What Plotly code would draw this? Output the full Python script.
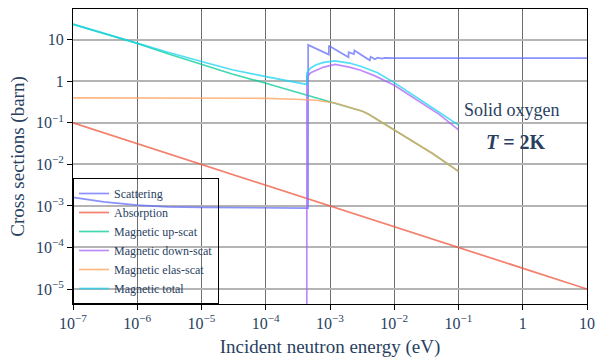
import plotly.graph_objects as go

# ---------------- data ----------------
E_abs = [1e-7, 10]
abs_xs = [0.1, 1e-5]

E_scat = [1e-7, 3e-7, 1e-6, 3e-6, 1e-5, 1e-4, 4.55e-4,
          4.57e-4, 9.6e-4, 9.62e-4, 1.94e-3, 1.95e-3, 2.35e-3, 2.4e-3, 4.16e-3,
          4.3e-3, 5e-3, 5.5e-3, 6.5e-3, 7e-3, 9e-3, 1e-2, 1e-1, 1, 10]
scat_xs = [1.6e-3, 1.25e-3, 1.05e-3, 9.5e-4, 9.2e-4, 9.0e-4, 8.9e-4,
           7.5, 4.4, 7.2, 3.8, 5.0, 4.5, 5.5, 3.2,
           3.9, 3.4, 3.7, 3.5, 3.65, 3.55, 3.6, 3.6, 3.6, 3.6]

E_up = [1e-7, 3e-7, 1e-6, 3e-6, 1e-5, 3e-5, 1e-4, 2.5e-4, 4.5e-4, 1e-3, 1.9e-3,
        2.5e-3, 3.2e-3, 4e-3, 5e-3, 6.2e-3, 8e-3, 1.15e-2, 2e-2, 4e-2, 1e-1]
up_xs = [23.5, 14.0, 8.2, 4.6, 2.6, 1.5, 0.9, 0.6, 0.47, 0.33, 0.245,
         0.22, 0.19, 0.16, 0.13, 0.105, 0.083, 0.06, 0.036, 0.018, 0.0068]

E_down = [4.35e-4, 4.37e-4, 5e-4, 6.1e-4, 8e-4, 1.2e-3, 2e-3, 3e-3, 5e-3, 1e-2,
          2e-2, 5e-2, 1e-1]
down_xs = [1e-9, 1.3, 1.6, 1.85, 2.2, 2.55, 2.2, 1.85, 1.35, 0.8,
           0.4, 0.16, 0.068]

E_elas = [1e-7, 1e-6, 1e-5, 5e-5, 1e-4, 3e-4, 6e-4, 1.2e-3, 1.9e-3,
          2.5e-3, 3.2e-3, 4e-3, 5e-3, 6.2e-3, 8e-3, 1.15e-2, 2e-2, 4e-2, 1e-1]
elas_xs = [0.4, 0.4, 0.4, 0.4, 0.39, 0.37, 0.35, 0.3, 0.245,
           0.22, 0.19, 0.16, 0.13, 0.105, 0.083, 0.06, 0.036, 0.018, 0.0068]

E_tot = [1e-7, 3e-7, 1e-6, 3e-6, 1e-5, 3e-5, 1e-4, 2.5e-4, 4.35e-4,
         4.37e-4, 5e-4, 6.1e-4, 8e-4, 1.2e-3, 2e-3, 3e-3, 5.5e-3, 1e-2,
         2e-2, 5e-2, 1e-1]
tot_xs = [23.9, 14.4, 8.6, 5.0, 3.0, 1.9, 1.3, 0.98, 0.84,
          1.6, 2.1, 2.5, 2.85, 3.1, 2.75, 2.3, 1.6, 0.93,
          0.45, 0.18, 0.088]

x_tickvals = [1e-7, 1e-6, 1e-5, 1e-4, 1e-3, 1e-2, 1e-1, 1, 10]
x_ticktext = ["10<sup>−7</sup>", "10<sup>−6</sup>", "10<sup>−5</sup>", "10<sup>−4</sup>",
              "10<sup>−3</sup>", "10<sup>−2</sup>", "10<sup>−1</sup>", "1", "10"]
y_tickvals = [10, 1, 1e-1, 1e-2, 1e-3, 1e-4, 1e-5]
y_ticktext = ["10", "1", "10<sup>−1</sup>", "10<sup>−2</sup>", "10<sup>−3</sup>",
              "10<sup>−4</sup>", "10<sup>−5</sup>"]

series = [
    ("Scattering", E_scat, scat_xs, "#636EFA"),
    ("Absorption", E_abs, abs_xs, "#EF553B"),
    ("Magnetic up-scat", E_up, up_xs, "#00CC96"),
    ("Magnetic down-scat", E_down, down_xs, "#AB63FA"),
    ("Magnetic elas-scat", E_elas, elas_xs, "#FFA15A"),
    ("Magnetic total", E_tot, tot_xs, "#19D3F3"),
]

FONT = "Liberation Serif"
TXT = "#2a3f5f"

fig = go.Figure()
for name, xs, ys, col in series:
    fig.add_trace(go.Scatter(x=xs, y=ys, mode="lines", name=name,
                             line=dict(color=col, width=1.7), opacity=0.75))

fig.update_layout(
    width=603, height=362,
    margin=dict(l=73, r=13, t=8, b=56),
    paper_bgcolor="white", plot_bgcolor="white",
    font=dict(family=FONT, color=TXT, size=16),
    showlegend=True,
    legend=dict(x=0, y=0, xanchor="left", yanchor="bottom",
                bgcolor="rgba(0,0,0,0)", bordercolor="black", borderwidth=1,
                font=dict(family=FONT, size=12, color=TXT),
                itemwidth=30, tracegroupgap=0),
    annotations=[
        dict(x=0.855, y=0.658, xref="paper", yref="paper", showarrow=False,
             xanchor="center", yanchor="middle",
             text="Solid oxygen", font=dict(family=FONT, size=18, color=TXT)),
        dict(x=0.862, y=0.548, xref="paper", yref="paper", showarrow=False,
             xanchor="center", yanchor="middle",
             text="<b><i>T</i> = 2K</b>", font=dict(family=FONT, size=20, color=TXT)),
    ],
)

fig.update_xaxes(type="log", range=[-7, 1],
                 tickvals=x_tickvals, ticktext=x_ticktext,
                 showgrid=True, gridcolor="#6e6e6e", gridwidth=1,
                 showline=True, linecolor="black", linewidth=1, mirror=True,
                 ticks="outside", ticklen=5, tickcolor="black",
                 tickfont=dict(family=FONT, size=16, color=TXT),
                 title=dict(text="Incident neutron energy (eV)",
                            font=dict(family=FONT, size=19, color=TXT), standoff=8),
                 zeroline=False)
fig.update_yaxes(type="log", range=[-5.36, 1.74],
                 tickvals=y_tickvals, ticktext=y_ticktext,
                 showgrid=True, gridcolor="#b4b4b4", gridwidth=1.5,
                 showline=True, linecolor="black", linewidth=1, mirror=True,
                 ticks="outside", ticklen=5, tickcolor="black",
                 tickfont=dict(family=FONT, size=16, color=TXT),
                 title=dict(text="Cross sections (barn)",
                            font=dict(family=FONT, size=19, color=TXT), standoff=6),
                 zeroline=False)

fig.write_html("out.html")
